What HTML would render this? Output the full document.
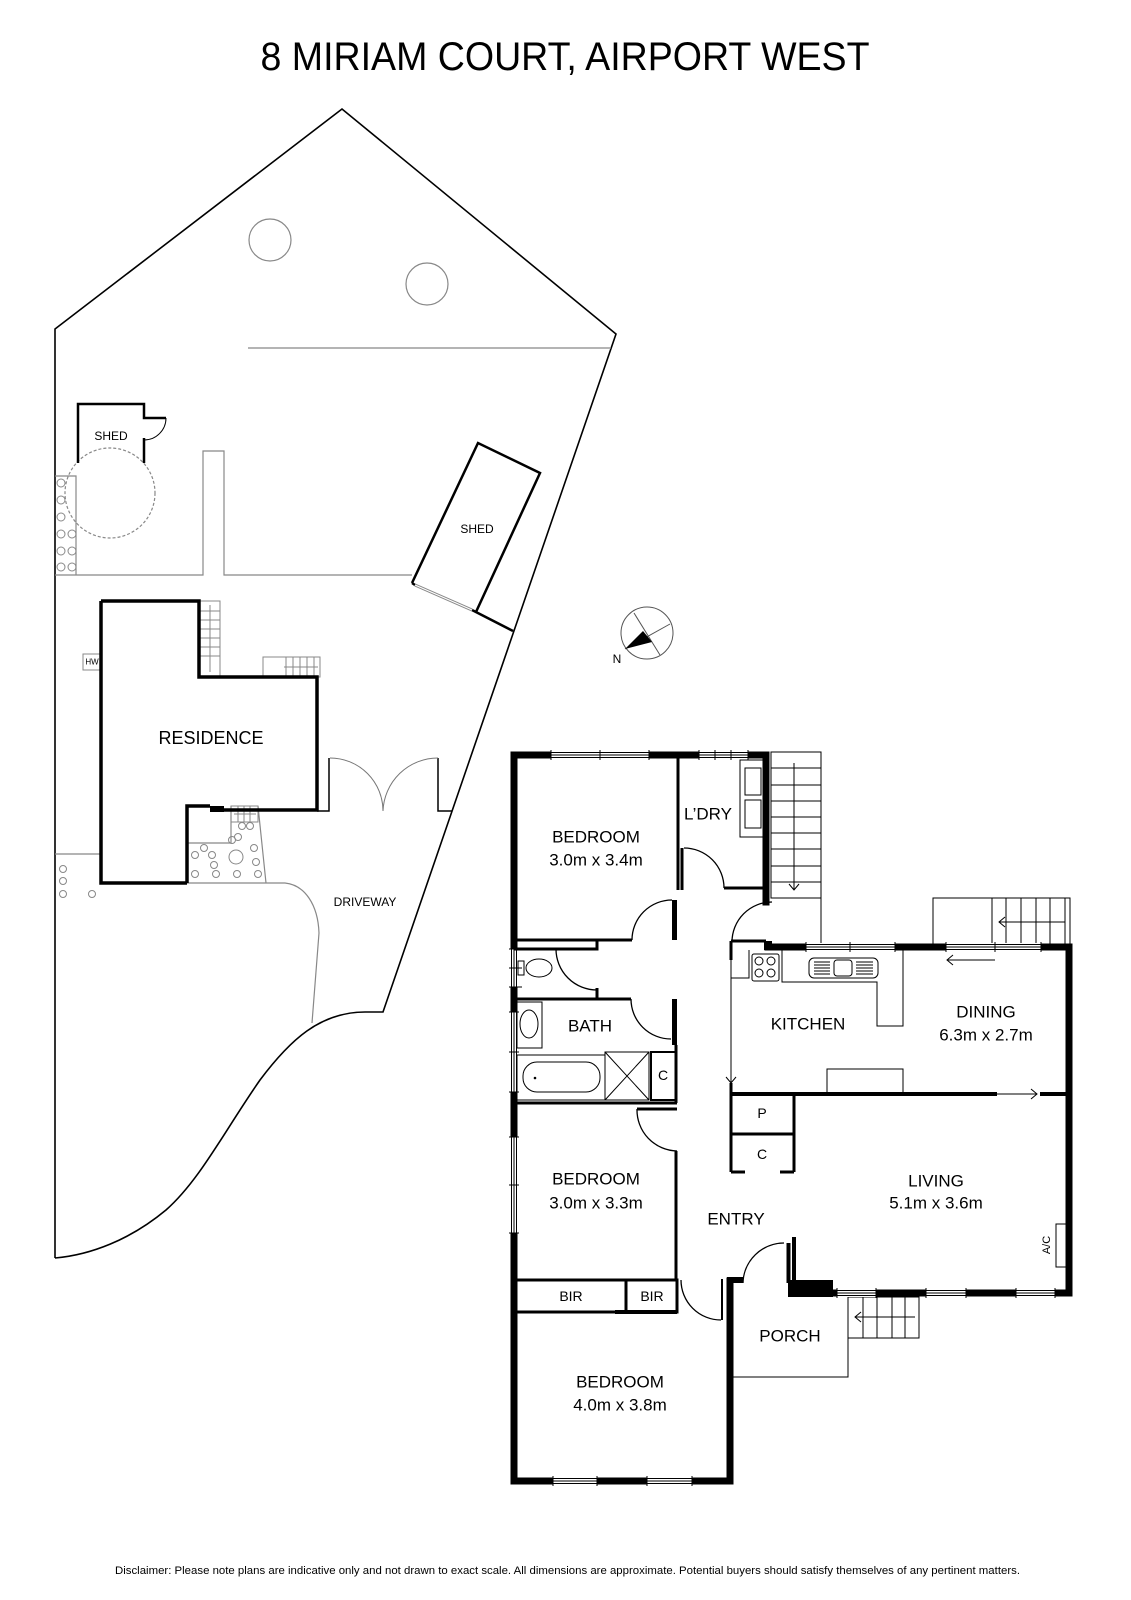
<!DOCTYPE html>
<html><head><meta charset="utf-8"><style>
html,body{margin:0;padding:0;background:#fff;}
svg{display:block;}
text{font-family:"Liberation Sans",Arial,sans-serif;fill:#000;}
</style></head><body>
<svg width="1131" height="1600" viewBox="0 0 1131 1600" xmlns="http://www.w3.org/2000/svg">
<rect width="1131" height="1600" fill="#fff"/>
<text x="565" y="57" font-size="40" text-anchor="middle" dominant-baseline="central" textLength="609" lengthAdjust="spacingAndGlyphs">8 MIRIAM COURT, AIRPORT WEST</text>

<!-- SITE -->
<g fill="none" stroke="#000" stroke-width="1.6">
<path d="M55,1258 V329 L342,109 L616,334 L383,1012 H365 C320,1012 290,1040 260,1080 C225,1130 200,1180 166,1210 C130,1240 90,1255 55,1258"/>
</g>
<g fill="none" stroke="#888" stroke-width="1.2">
<line x1="248" y1="348" x2="611" y2="348"/>
<circle cx="270" cy="240" r="21"/>
<circle cx="427" cy="284" r="21"/>
<circle cx="110" cy="493" r="45" stroke-dasharray="3,2"/>
<path d="M55,575 H203 V451 H224 V575 H412"/>
<path d="M55,854 H101"/>
<path d="M187,883 H266 M266,883 H285 C305,885 318,905 319,933 L312,1023"/>
<path d="M187,843 H231 V806 M258,806 L266,883"/>
<path d="M55,476 H76 V575"/>
</g>
<g fill="none" stroke="#888" stroke-width="1">
<circle cx="61" cy="483" r="4"/><circle cx="61" cy="500" r="4"/><circle cx="61" cy="517" r="4"/>
<circle cx="61" cy="534" r="4"/><circle cx="72" cy="534" r="4"/>
<circle cx="61" cy="551" r="4"/><circle cx="72" cy="551" r="4"/>
<circle cx="61" cy="567" r="4"/><circle cx="72" cy="567" r="4"/>
<circle cx="63" cy="869" r="3.5"/><circle cx="63" cy="881" r="3.5"/><circle cx="63" cy="894" r="3.5"/><circle cx="92" cy="894" r="3.5"/>
<circle cx="195" cy="855" r="3.5"/><circle cx="212" cy="855" r="3.5"/><circle cx="232" cy="840" r="3.5"/><circle cx="238" cy="837" r="3.5"/>
<circle cx="242" cy="826" r="3.5"/><circle cx="250" cy="826" r="3.5"/><circle cx="254" cy="848" r="3.5"/><circle cx="256" cy="862" r="3.5"/>
<circle cx="214" cy="865" r="3.5"/><circle cx="236" cy="857" r="7"/>
<circle cx="195" cy="874" r="3.5"/><circle cx="216" cy="874" r="3.5"/><circle cx="237" cy="874" r="3.5"/><circle cx="258" cy="874" r="3.5"/>
<circle cx="204" cy="848" r="3.5"/>
</g>
<!-- stairs residence -->
<g fill="none" stroke="#888" stroke-width="1">
<rect x="200" y="601" width="20" height="76"/>
<path d="M200,611 H220 M200,620 H220 M200,629 H220 M200,638 H220 M200,647 H220 M200,656 H220 M210,605 V672"/>
<rect x="263" y="657" width="57" height="20"/>
<path d="M286,657 V677 M293,657 V677 M300,657 V677 M307,657 V677 M314,657 V677 M318,667 H284"/>
<rect x="231" y="806" width="27" height="16"/>
<path d="M238,806 V822 M244,806 V822 M250,806 V822 M256,814 H234"/>
<rect x="83" y="654" width="18" height="16"/>
</g>
<!-- residence -->
<path d="M101,601 H199 V677 H317 V810 H224 M187,883 V806 H210 M101,601 V883 H187" fill="none" stroke="#000" stroke-width="3.5"/>
<rect x="210" y="806" width="14" height="6" fill="#000"/>
<!-- shed 1 -->
<path d="M78,463 V404 H144 V418 H166 M144,438 V463" fill="none" stroke="#000" stroke-width="2.5"/>
<path d="M166,418 A22,22 0 0,1 144,440" fill="none" stroke="#000" stroke-width="1"/>
<!-- shed 2 -->
<path d="M412,583 L478,443 L540,473 L476,612 M412,583 L415,585 M472,610 L513,631" fill="none" stroke="#000" stroke-width="2.5"/>
<path d="M415,585 L472,610" fill="none" stroke="#888" stroke-width="3"/>
<path d="M415,585 L472,610" fill="none" stroke="#fff" stroke-width="1"/>
<!-- gates -->
<g fill="none" stroke="#000" stroke-width="1.5">
<path d="M317,811 H329 V758 M438,758 V811 H452"/>
</g>
<path d="M330,758 A53,53 0 0,1 383,811 M438,758 A55,55 0 0,0 383,811" fill="none" stroke="#777" stroke-width="1"/>
<text x="111" y="436" font-size="12" text-anchor="middle" dominant-baseline="central">SHED</text>
<text x="477" y="529" font-size="12" text-anchor="middle" dominant-baseline="central">SHED</text>
<text x="211" y="738" font-size="18" text-anchor="middle" dominant-baseline="central">RESIDENCE</text>
<text x="92" y="662" font-size="8" text-anchor="middle" dominant-baseline="central">HW</text>
<text x="365" y="902" font-size="12" text-anchor="middle" dominant-baseline="central">DRIVEWAY</text>
<!-- compass -->
<circle cx="647" cy="633" r="26" fill="none" stroke="#555" stroke-width="1"/>
<path d="M634,613 L660,655 M670,624 L625,649" stroke="#555" stroke-width="1"/>
<path d="M625,649 L643,631 L652,642 Z" fill="#000"/>
<text x="617" y="659" font-size="12" text-anchor="middle" dominant-baseline="central">N</text>

<!-- FLOOR PLAN -->
<!-- stairs -->
<g fill="none" stroke="#000" stroke-width="1">
<rect x="771" y="752" width="50" height="146"/>
<path d="M821,898 V947 M771,768 H821 M771,785 H821 M771,801 H821 M771,817 H821 M771,833 H821 M771,849 H821 M771,866 H821 M771,882 H821"/>
<path d="M794,763 V890 M789,884 L794,890 L799,884"/>
<rect x="933" y="898" width="137" height="49"/>
<path d="M992,898 V947 M1006,898 V947 M1021,898 V947 M1036,898 V947 M1050,898 V947 M1065,898 V947"/>
<path d="M1065,922 H999 M1005,917 L999,922 L1005,927"/>
<rect x="848" y="1297" width="71" height="41"/>
<path d="M863,1297 V1338 M877,1297 V1338 M892,1297 V1338 M905,1297 V1338 M915,1317 H855 M861,1312 L855,1317 L861,1322"/>
<path d="M733,1377 H848 V1297"/>
</g>
<!-- outer thick walls -->
<g fill="none" stroke="#000" stroke-width="7" stroke-linecap="square">
<path d="M514,755 V1481 H730 V1281"/>
<path d="M514,755 H766 V902"/>
<path d="M768,947 H1069 V1293 H836"/>
</g>
<rect x="764" y="941" width="8" height="9" fill="#000"/>
<rect x="788" y="1280" width="45" height="17" fill="#000"/>
<rect x="727" y="1277" width="16" height="6" fill="#000"/>
<!-- windows -->
<g stroke="#000" stroke-width="1" fill="#fff">
<g><rect x="551" y="751" width="98" height="8" stroke="none"/><path d="M551,752.5 H649 M551,755 H649 M551,757.5 H649 M551,750 V760 M600,750 V760 M649,750 V760" fill="none"/></g>
<g><rect x="699" y="751" width="49" height="8" stroke="none"/><path d="M699,752.5 H748 M699,755 H748 M699,757.5 H748 M699,750 V760 M715,750 V760 M731,750 V760 M748,750 V760" fill="none"/></g>
<g><rect x="806" y="943" width="89" height="8" stroke="none"/><path d="M806,944.5 H895 M806,947 H895 M806,949.5 H895 M806,942 V952 M850,942 V952 M895,942 V952" fill="none"/></g>
<g><rect x="946" y="943" width="95" height="8" stroke="none"/><path d="M946,944.5 H1041 M946,947 H1041 M946,949.5 H1041 M946,942 V952 M995,942 V952 M1041,942 V952" fill="none"/></g>
<g><rect x="837" y="1289" width="39" height="8" stroke="none"/><path d="M837,1290.5 H876 M837,1293 H876 M837,1295.5 H876 M837,1288 V1298 M876,1288 V1298" fill="none"/></g>
<g><rect x="926" y="1289" width="40" height="8" stroke="none"/><path d="M926,1290.5 H966 M926,1293 H966 M926,1295.5 H966 M926,1288 V1298 M966,1288 V1298" fill="none"/></g>
<g><rect x="1016" y="1289" width="39" height="8" stroke="none"/><path d="M1016,1290.5 H1055 M1016,1293 H1055 M1016,1295.5 H1055 M1016,1288 V1298 M1055,1288 V1298" fill="none"/></g>
<g><rect x="553" y="1477" width="44" height="8" stroke="none"/><path d="M553,1478.5 H597 M553,1481 H597 M553,1483.5 H597 M553,1476 V1486 M597,1476 V1486" fill="none"/></g>
<g><rect x="647" y="1477" width="45" height="8" stroke="none"/><path d="M647,1478.5 H692 M647,1481 H692 M647,1483.5 H692 M647,1476 V1486 M692,1476 V1486" fill="none"/></g>
<g><rect x="510" y="949" width="8" height="38" stroke="none"/><path d="M511.5,949 V987 M514,949 V987 M516.5,949 V987 M509,949 H522 M509,968 H522 M509,987 H522" fill="none"/></g>
<g><rect x="510" y="1012" width="8" height="80" stroke="none"/><path d="M511.5,1012 V1092 M514,1012 V1092 M516.5,1012 V1092 M509,1012 H519 M509,1052 H519 M509,1092 H519" fill="none"/></g>
<g><rect x="510" y="1137" width="8" height="96" stroke="none"/><path d="M511.5,1137 V1233 M514,1137 V1233 M516.5,1137 V1233 M509,1137 H519 M509,1185 H519 M509,1233 H519" fill="none"/></g>
</g>
<!-- interior walls -->
<g fill="none" stroke="#000" stroke-width="3">
<path d="M678,755 V890 M682,848 V890 M724,888 H766"/>
<path d="M674.5,900 V940" stroke-width="5"/>
<path d="M514,940 H632"/>
<path d="M514,949 H597 V940"/>
<path d="M514,999 H631 M597,988 V999"/>
<path d="M674.5,999 V1045" stroke-width="5"/>
<path d="M676,1045 V1103 M514,1103 H677 M637,1109 H677 M676,1151 V1280"/>
<path d="M514,1280 H677 V1312 H515 M626,1280 V1312"/>
<path d="M615,1312 H677" stroke-width="4"/>
<path d="M731,941 H766 M731,941 V960 M731,1083 V1172 M731,1134 H794 M794,1094 V1172 M731,1172 H745 M780,1172 H794"/>
<path d="M731,1094 H997 M1040,1094 H1069" stroke-width="4"/>
<path d="M794,1237 V1283 M788.5,1243 V1283" stroke-width="4"/>
<path d="M722,1279 V1320" stroke-width="2"/>
</g>
<g fill="none" stroke="#000" stroke-width="1">
<path d="M997,1094 H1037 M1031,1089 L1037,1094 L1031,1099"/>
<path d="M731,960 V1083 M726,1077 L731,1083 L736,1077"/>
<path d="M995,960 H947 M953,955 L947,960 L953,965"/>
</g>
<!-- doors -->
<g fill="none" stroke="#000" stroke-width="1.3">
<path d="M684,848 A40,40 0 0,1 724,888"/>
<path d="M672,900 A40,40 0 0,0 632,940"/>
<path d="M772,902 A40,40 0 0,0 732,942"/>
<path d="M556,949 A41,41 0 0,0 597,990"/>
<path d="M631,999 A40,40 0 0,0 671,1039"/>
<path d="M637,1109 A41,41 0 0,0 677,1151"/>
<path d="M681,1280 A40,40 0 0,0 721,1320"/>
<path d="M784,1243 A41,41 0 0,0 743,1283"/>
</g>
<!-- fixtures -->
<g fill="none" stroke="#000" stroke-width="1">
<rect x="740" y="760" width="25" height="77"/>
<rect x="745" y="768" width="16" height="27"/>
<rect x="745" y="800" width="16" height="28"/>
<rect x="752" y="954" width="27" height="27" rx="2"/>
<circle cx="759" cy="961" r="4"/><circle cx="771" cy="961" r="4"/><circle cx="759" cy="973" r="4"/><circle cx="771" cy="973" r="4"/>
<path d="M731,978 H749 V950 M782,950 V982 H877 V1026 H903 V950"/>
<rect x="809" y="958" width="69" height="20" rx="5"/>
<rect x="834" y="960" width="18" height="16" rx="3"/>
<path d="M814,962 H830 M814,965 H830 M814,968 H830 M814,971 H830 M814,974 H830 M856,962 H873 M856,965 H873 M856,968 H873 M856,971 H873 M856,974 H873"/>
<rect x="827" y="1069" width="76" height="25"/>
<rect x="1056" y="1224" width="10" height="43"/>
<rect x="518" y="961" width="6" height="14"/>
<ellipse cx="539" cy="968" rx="13" ry="9"/>
<rect x="517" y="1002" width="25" height="46"/>
<ellipse cx="529" cy="1024" rx="9" ry="14"/>
<rect x="517" y="1055" width="88" height="45"/>
<rect x="523" y="1062" width="77" height="30" rx="14"/>
<circle cx="535" cy="1078" r="0.8" fill="#000"/>
<rect x="605" y="1052" width="44" height="48"/>
<path d="M605,1052 L649,1100 M649,1052 L605,1100"/>
<rect x="651" y="1052" width="25" height="48" stroke-width="2"/>
</g>
<!-- labels -->
<g font-size="17" text-anchor="middle" dominant-baseline="central">
<text x="596" y="837">BEDROOM</text><text x="596" y="860">3.0m x 3.4m</text>
<text x="708" y="814">L’DRY</text>
<text x="590" y="1026">BATH</text>
<text x="596" y="1179">BEDROOM</text><text x="596" y="1203">3.0m x 3.3m</text>
<text x="808" y="1024">KITCHEN</text>
<text x="986" y="1012">DINING</text><text x="986" y="1035">6.3m x 2.7m</text>
<text x="936" y="1181">LIVING</text><text x="936" y="1203">5.1m x 3.6m</text>
<text x="736" y="1219">ENTRY</text>
<text x="790" y="1336">PORCH</text>
<text x="620" y="1382">BEDROOM</text><text x="620" y="1405">4.0m x 3.8m</text>
</g>
<g font-size="14" text-anchor="middle" dominant-baseline="central">
<text x="762" y="1113">P</text><text x="762" y="1154">C</text>
<text x="663" y="1075">C</text>
<text x="571" y="1296">BIR</text><text x="652" y="1296">BIR</text>
</g>
<text x="1047" y="1245" font-size="11" text-anchor="middle" dominant-baseline="central" transform="rotate(-90 1047 1245)">A/C</text>

<text x="115" y="1571" font-size="10.6" dominant-baseline="central" textLength="905" lengthAdjust="spacingAndGlyphs">Disclaimer: Please note plans are indicative only and not drawn to exact scale. All dimensions are approximate. Potential buyers should satisfy themselves of any pertinent matters.</text>
</svg>
</body></html>
